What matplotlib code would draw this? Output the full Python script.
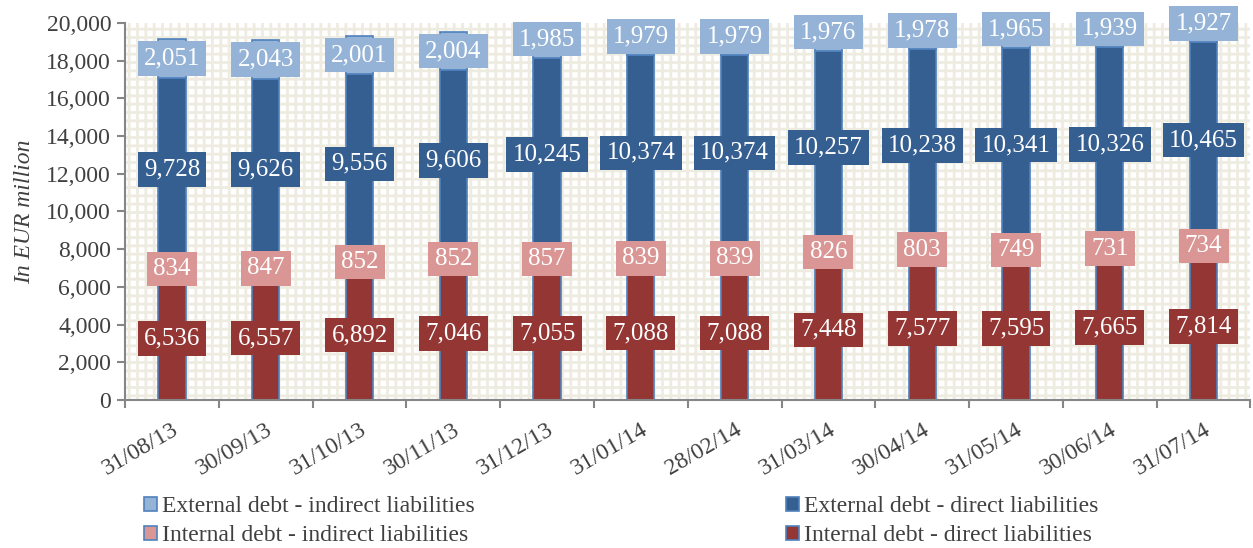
import matplotlib
matplotlib.use('Agg')
import matplotlib.pyplot as plt
from matplotlib.patches import Rectangle
from matplotlib.ticker import FuncFormatter, FixedLocator

plt.rcParams['font.family'] = ['Liberation Serif', 'DejaVu Serif']
plt.rcParams['hatch.linewidth'] = 2.0

dates = ['31/08/13', '30/09/13', '31/10/13', '30/11/13', '31/12/13', '31/01/14',
         '28/02/14', '31/03/14', '30/04/14', '31/05/14', '30/06/14', '31/07/14']
int_dir = [6536, 6557, 6892, 7046, 7055, 7088, 7088, 7448, 7577, 7595, 7665, 7814]
int_ind = [834, 847, 852, 852, 857, 839, 839, 826, 803, 749, 731, 734]
ext_dir = [9728, 9626, 9556, 9606, 10245, 10374, 10374, 10257, 10238, 10341, 10326, 10465]
ext_ind = [2051, 2043, 2001, 2004, 1985, 1979, 1979, 1976, 1978, 1965, 1939, 1927]

series = [
    ('Internal debt - direct liabilities', int_dir, '#943634'),
    ('Internal debt - indirect liabilities', int_ind, '#D99694'),
    ('External debt - direct liabilities', ext_dir, '#365F91'),
    ('External debt - indirect liabilities', ext_ind, '#95B3D7'),
]

fig = plt.figure(figsize=(12.53, 5.48), dpi=100)
ax = fig.add_axes([0.0998, 0.2701, 0.8982, 0.688])

# patterned background
bg = Rectangle((0, 0), 1, 1, transform=ax.transAxes, facecolor='white',
               edgecolor='#EEECE1', hatch='++', lw=0, zorder=0)
ax.add_patch(bg)
ax.patch.set_visible(False)

x = list(range(len(dates)))
bottom = [0] * len(dates)
handles = {}
for name, vals, col in series:
    b = ax.bar(x, vals, width=0.29, bottom=bottom, color=col,
               edgecolor='#4F81BD', linewidth=1.2, zorder=2, label=name)
    handles[name] = b
    for i, v in enumerate(vals):
        ax.text(i, bottom[i] + v / 2, f'{v:,}', ha='center', va='center',
                color='white', fontsize=18, zorder=4, clip_on=False,
                bbox=dict(boxstyle='square,pad=0.25', facecolor=col,
                          edgecolor='none'))
    bottom = [bottom[i] + vals[i] for i in range(len(vals))]

ax.set_xlim(-0.5, len(dates) - 0.5)
ax.set_ylim(0, 20000)
ax.set_yticks(range(0, 20001, 2000))
ax.yaxis.set_major_formatter(FuncFormatter(lambda v, p: f'{int(v):,}'))
ax.set_xticks(x)
ax.set_xticklabels(dates, rotation=30, ha='right', rotation_mode='anchor')
ax.xaxis.set_minor_locator(FixedLocator([i - 0.5 for i in range(len(dates) + 1)]))
ax.tick_params(axis='x', which='major', length=0, pad=14, labelsize=17, labelcolor='#404040')
ax.tick_params(axis='x', which='minor', length=6, color='#868686', width=1.5)
ax.tick_params(axis='y', length=6, color='#868686', width=1.5, labelsize=17,
               labelcolor='#404040', pad=4)

for s in ['top', 'right']:
    ax.spines[s].set_visible(False)
for s in ['left', 'bottom']:
    ax.spines[s].set_color('#868686')
    ax.spines[s].set_linewidth(1.5)

ax.set_ylabel('In EUR million', fontsize=17, style='italic', color='#404040', labelpad=8)

order = ['External debt - indirect liabilities', 'Internal debt - indirect liabilities',
         'External debt - direct liabilities', 'Internal debt - direct liabilities']
leg = fig.legend([handles[n] for n in order], order, loc='lower left',
                 bbox_to_anchor=(0.098, -0.036), ncol=2, frameon=False, fontsize=17,
                 handlelength=0.55, handleheight=0.55, handletextpad=0.2,
                 columnspacing=13.2, labelspacing=0.36, labelcolor='#404040')

fig.savefig('out.png', dpi=100)
